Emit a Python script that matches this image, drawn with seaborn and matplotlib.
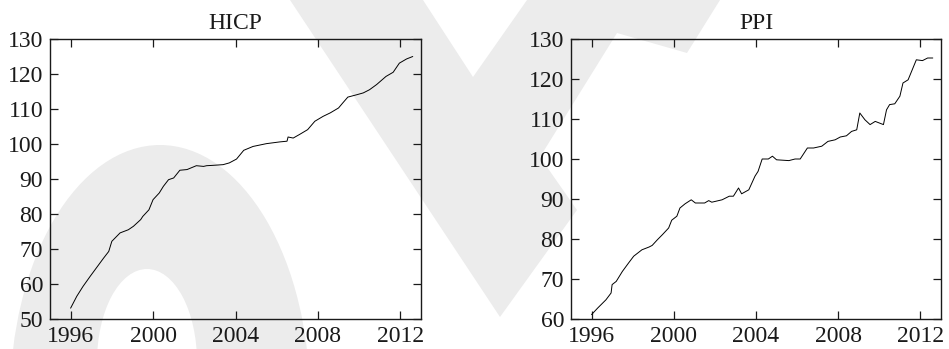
import matplotlib
matplotlib.use("Agg")
import matplotlib.pyplot as plt
from matplotlib.patches import Polygon, Ellipse
import seaborn as sns
import pandas as pd

# HICP index (time in decimal years)
hicp_t = [1996.0, 1996.3, 1996.6, 1996.95, 1997.3, 1997.6, 1997.85, 1998.0, 1998.4,
          1998.8, 1999.05, 1999.4, 1999.5, 1999.8, 2000.0, 2000.3, 2000.5, 2000.75,
          2001.0, 2001.3, 2001.65, 2002.1, 2002.45, 2002.6, 2002.9, 2003.4, 2003.7,
          2004.05, 2004.4, 2004.85, 2005.5, 2006.15, 2006.5, 2006.55, 2006.8, 2007.1,
          2007.5, 2007.85, 2008.25, 2008.6, 2009.0, 2009.2, 2009.45, 2009.9, 2010.2,
          2010.5, 2010.85, 2011.3, 2011.65, 2011.95, 2012.3, 2012.6]
hicp_v = [53.1, 56.5, 59.3, 62.2, 65.0, 67.4, 69.3, 72.2, 74.6,
          75.5, 76.5, 78.4, 79.3, 81.2, 84.1, 86.0, 87.9, 89.8,
          90.3, 92.5, 92.7, 93.8, 93.6, 93.8, 93.9, 94.1, 94.6,
          95.7, 98.2, 99.3, 100.1, 100.6, 100.8, 102.0, 101.7, 102.7,
          104.1, 106.5, 107.9, 108.9, 110.3, 111.7, 113.4, 114.1, 114.6,
          115.5, 117.0, 119.3, 120.5, 123.1, 124.3, 125.0]

# PPI index (time in decimal years)
ppi_t = [1996.0, 1996.3, 1996.7, 1996.95, 1997.0, 1997.2, 1997.5, 1997.8, 1998.05,
         1998.45, 1998.8, 1998.95, 1999.2, 1999.45, 1999.75, 1999.9, 2000.15, 2000.3,
         2000.55, 2000.85, 2001.05, 2001.5, 2001.7, 2001.85, 2002.35, 2002.7, 2002.9,
         2003.15, 2003.3, 2003.65, 2003.95, 2004.1, 2004.3, 2004.6, 2004.8, 2005.0,
         2005.6, 2005.9, 2006.15, 2006.5, 2006.8, 2007.2, 2007.5, 2007.85, 2008.1,
         2008.4, 2008.65, 2008.9, 2009.05, 2009.3, 2009.55, 2009.8, 2010.2, 2010.35,
         2010.5, 2010.75, 2011.0, 2011.15, 2011.4, 2011.8, 2012.1, 2012.35, 2012.6]
ppi_v = [61.1, 62.75, 64.8, 66.5, 68.6, 69.4, 71.9, 74.0, 75.7,
         77.3, 78.0, 78.4, 79.8, 81.1, 82.75, 84.7, 85.7, 87.75,
         88.8, 89.8, 89.0, 89.0, 89.6, 89.2, 89.8, 90.7, 90.7,
         92.75, 91.3, 92.3, 95.7, 96.9, 100.0, 100.0, 100.7, 99.8,
         99.6, 100.0, 100.0, 102.75, 102.75, 103.2, 104.4, 104.8, 105.5,
         105.8, 106.9, 107.3, 111.5, 109.8, 108.6, 109.4, 108.6, 112.3,
         113.6, 113.8, 115.7, 119.0, 119.8, 124.8, 124.6, 125.25, 125.25]

titles = ["HICP", "PPI"]
year_ticks = [1996, 2000, 2004, 2008, 2012]

sns.set_theme(style="ticks")
plt.rcParams["font.family"] = ["Liberation Serif", "DejaVu Serif"]

W, H = 949, 349
fig = plt.figure(figsize=(W / 100, H / 100), dpi=100)
fig.patch.set_facecolor("white")

# light grey background emblem (pixel coordinates, origin top-left)
grey = "#ececec"
def px(pts):
    return [(x / W, 1 - y / H) for x, y in pts]

fig.patches.append(Ellipse((160 / W, 1 - 400 / H), 300 / W, 510 / H,
                           transform=fig.transFigure, facecolor=grey,
                           edgecolor="none", zorder=-10))
fig.patches.append(Ellipse((147 / W, 1 - 362 / H), 100 / W, 186 / H,
                           transform=fig.transFigure, facecolor="white",
                           edgecolor="none", zorder=-9))
fig.patches.append(Polygon(px([(290, 0), (423, 0), (473, 77), (527, 0), (720, 0),
                               (687, 53), (617, 33), (540, 157), (577, 210),
                               (500, 317)]),
                           closed=True, transform=fig.transFigure,
                           facecolor=grey, edgecolor="none", zorder=-10))

panels = [
    dict(t=hicp_t, v=hicp_v, ylim=(50, 130), yticks=list(range(50, 131, 10)),
         rect=[50 / W, 30 / H, 371 / W, 280 / H]),
    dict(t=ppi_t, v=ppi_v, ylim=(60, 130), yticks=list(range(60, 131, 10)),
         rect=[571 / W, 30 / H, 370 / W, 280 / H]),
]

for title, p in zip(titles, panels):
    ax = fig.add_axes(p["rect"])
    ax.set_zorder(1)
    ax.patch.set_alpha(0)
    df = pd.DataFrame({"year": p["t"], "value": p["v"]})
    sns.lineplot(data=df, x="year", y="value", ax=ax, color="black",
                 linewidth=0.7, estimator=None, sort=False)
    ax.set_xlim(1995, 2013)
    ax.set_ylim(*p["ylim"])
    ax.set_xticks(year_ticks)
    ax.set_yticks(p["yticks"])
    ax.set_xlabel("")
    ax.set_ylabel("")
    ax.set_title(title, fontsize=17, pad=7, color="#1a1a1a")
    ax.tick_params(axis="both", which="major", direction="in", length=6,
                   width=0.9, labelsize=17, colors="#1a1a1a",
                   top=True, right=True, pad=5)
    for s in ax.spines.values():
        s.set_visible(True)
        s.set_linewidth(1.0)
        s.set_color("#1a1a1a")

fig.savefig("out.png", dpi=100, facecolor="white")
